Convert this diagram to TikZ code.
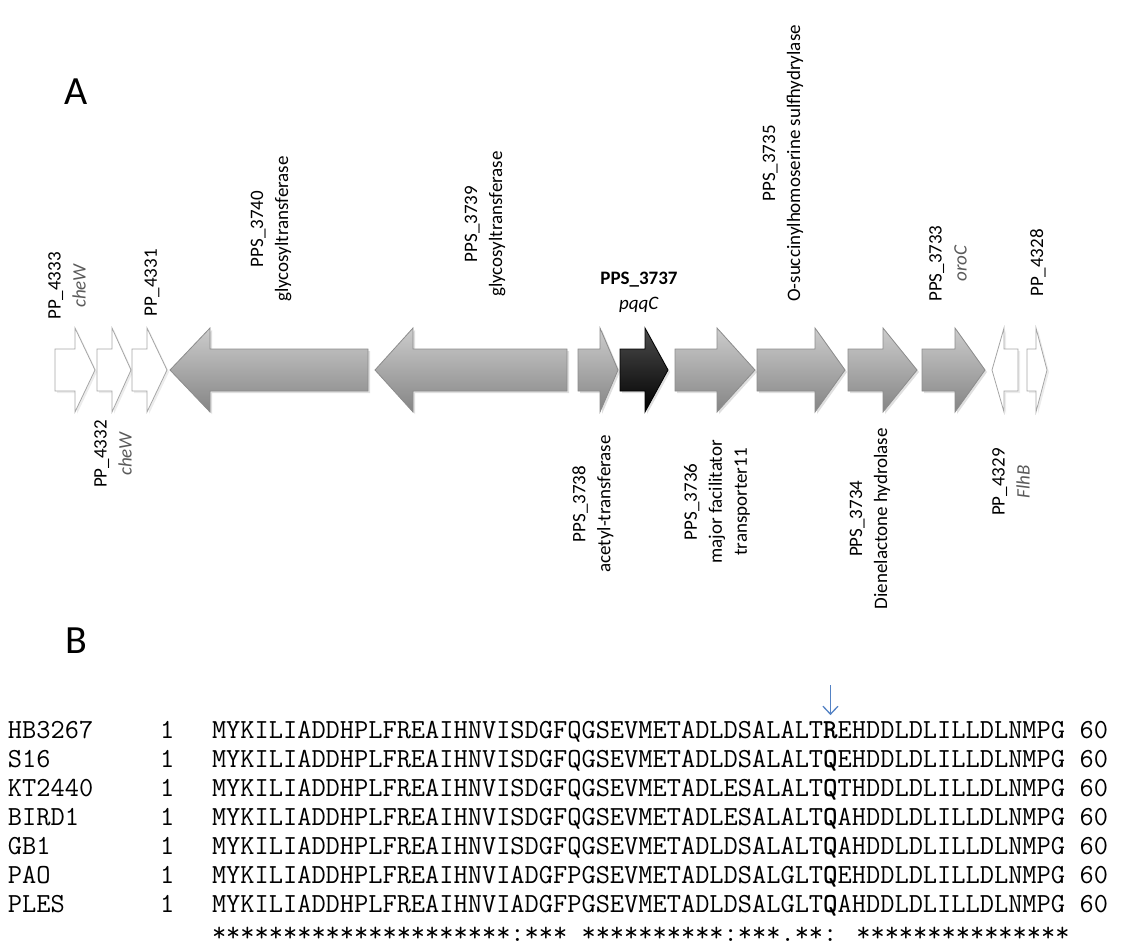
\documentclass[tikz,border=0pt]{standalone}
\usepackage{fontspec}
\setmainfont{Carlito}
\usepackage{tikz}
\usetikzlibrary{arrows.meta,shadows}
\definecolor{mutblue}{RGB}{84,130,196}
\definecolor{italgray}{RGB}{90,90,90}

% one gene: start of body, base of head, tip, style
\newcommand{\geneshape}[4]{%
    \path[#4] (#1,349) -- (#2,349) -- (#2,328) -- (#3,370)
        -- (#2,412) -- (#2,391) -- (#1,391) -- cycle;}

\begin{document}
\begin{tikzpicture}[x=1pt, y=-1pt,
    graygene/.style={top color=black!20, bottom color=black!48, draw=black!45,
        line width=0.8pt, drop shadow={opacity=0.25, shadow xshift=2pt, shadow yshift=-2pt}},
    blackgene/.style={top color=black!70, bottom color=black, draw=black,
        line width=0.8pt, drop shadow={opacity=0.25, shadow xshift=2pt, shadow yshift=-2pt}},
    whitegene/.style={fill=white, draw=black!35, line width=0.8pt,
        drop shadow={opacity=0.15, shadow xshift=2pt, shadow yshift=-2pt}},
    genelbl/.style={rotate=90, align=center, inner sep=0pt,
        font=\fontsize{19}{25}\selectfont},
    toplbl/.style={genelbl, anchor=west},
    botlbl/.style={genelbl, anchor=east},
    seqtext/.style={anchor=base west, inner sep=0pt, outer sep=0pt,
        font=\ttfamily\fontsize{27.6}{31}\selectfont}]
    \useasboundingbox (0,0) rectangle (1132,946);

    % panel A
    \node[font=\fontsize{40}{40}\selectfont] (panelA) at (76,92) {A};

    \geneshape{55}{75}{95}{whitegene}
    \geneshape{97}{112}{131}{whitegene}
    \geneshape{132}{147}{167}{whitegene}
    \geneshape{368}{210}{170}{graygene}
    \geneshape{567}{413}{375}{graygene}
    \geneshape{578}{600}{618}{graygene}
    \geneshape{620}{645}{668}{blackgene}
    \geneshape{675}{717}{755}{graygene}
    \geneshape{757}{815}{845}{graygene}
    \geneshape{848}{883}{917}{graygene}
    \geneshape{922}{955}{985}{graygene}
    \geneshape{1018}{1004}{992}{whitegene}
    \geneshape{1027}{1036}{1047}{whitegene}

    % labels above the genes
    \node[toplbl] (pp4333) at (67,320) {PP\_4333\\\textit{\color{italgray}cheW}};
    \node[toplbl] (pp4331) at (152,317) {PP\_4331};
    \node[toplbl] (pps3740) at (271,302) {PPS\_3740\\glycosyltransferase};
    \node[toplbl] (pps3739) at (485,297) {PPS\_3739\\glycosyltransferase};
    \node[align=center, inner sep=0pt, font=\fontsize{19}{25}\selectfont]
        (pps3737) at (639,292) {\textbf{PPS\_3737}\\\textit{pqqC}};
    \node[toplbl] (pps3735) at (783,302) {PPS\_3735\\O-succinylhomoserine sulfhydrylase};
    \node[toplbl] (pps3733) at (948,302) {PPS\_3733\\\textit{\color{italgray}oroC}};
    \node[toplbl] (pp4328) at (1038,297) {PP\_4328};

    % labels below the genes
    \node[botlbl] (pp4332) at (113,420) {PP\_4332\\\textit{\color{italgray}cheW}};
    \node[botlbl] (pps3738) at (593,435) {PPS\_3738\\acetyl-transferase};
    \node[botlbl] (pps3736) at (717,440) {PPS\_3736\\major facilitator\\transporter11};
    \node[botlbl] (pps3734) at (870,428) {PPS\_3734\\Dienelactone hydrolase};
    \node[botlbl] (pp4329) at (1011,448) {PP\_4329\\\textit{\color{italgray}FlhB}};

    % panel B
    \node[font=\fontsize{40}{40}\selectfont] (panelB) at (76,641) {B};

    \foreach \strain/\pre/\mut/\post [count=\i from 0] in {
        HB3267/MYKILIADDHPLFREAIHNVISDGFQGSEVMETADLDSALALT/R/EHDDLDLILLDLNMPG,
        S16/MYKILIADDHPLFREAIHNVISDGFQGSEVMETADLDSALALT/Q/EHDDLDLILLDLNMPG,
        KT2440/MYKILIADDHPLFREAIHNVISDGFQGSEVMETADLESALALT/Q/THDDLDLILLDLNMPG,
        BIRD1/MYKILIADDHPLFREAIHNVISDGFQGSEVMETADLESALALT/Q/AHDDLDLILLDLNMPG,
        GB1/MYKILIADDHPLFREAIHNVISDGFQGSEVMETADLDSALALT/Q/AHDDLDLILLDLNMPG,
        PAO/MYKILIADDHPLFREAIHNVIADGFPGSEVMETADLDSALGLT/Q/EHDDLDLILLDLNMPG,
        PLES/MYKILIADDHPLFREAIHNVIADGFPGSEVMETADLDSALGLT/Q/AHDDLDLILLDLNMPG}
    {
        \node[seqtext] (strain\i) at (8,{738+29*\i}) {\strain};
        \node[seqtext] (first\i) at (160,{738+29*\i}) {1};
        \node[seqtext] (pre\i) at (212,{738+29*\i}) {\pre};
        \node[seqtext] (mut\i) at (pre\i.base east) {\textbf{\mut}};
        \node[seqtext] (post\i) at (mut\i.base east) {\post};
        \node[seqtext] (last\i) at ([xshift=14.5pt]post\i.base east) {60};
    }
    \node[seqtext] (consensus) at (212,941)
        {*********************:*** **********:***.**: ***************};

    % arrow to the mutated residue
    \coordinate (mutfrom) at ([yshift=36pt]mut0.north);
    \coordinate (mutto) at ([yshift=6pt]mut0.north);
    \draw[mutblue, line width=1.3pt, -{Straight Barb[length=8pt,width=15pt]}]
        (mutfrom) -- (mutto);
\end{tikzpicture}
\end{document}
